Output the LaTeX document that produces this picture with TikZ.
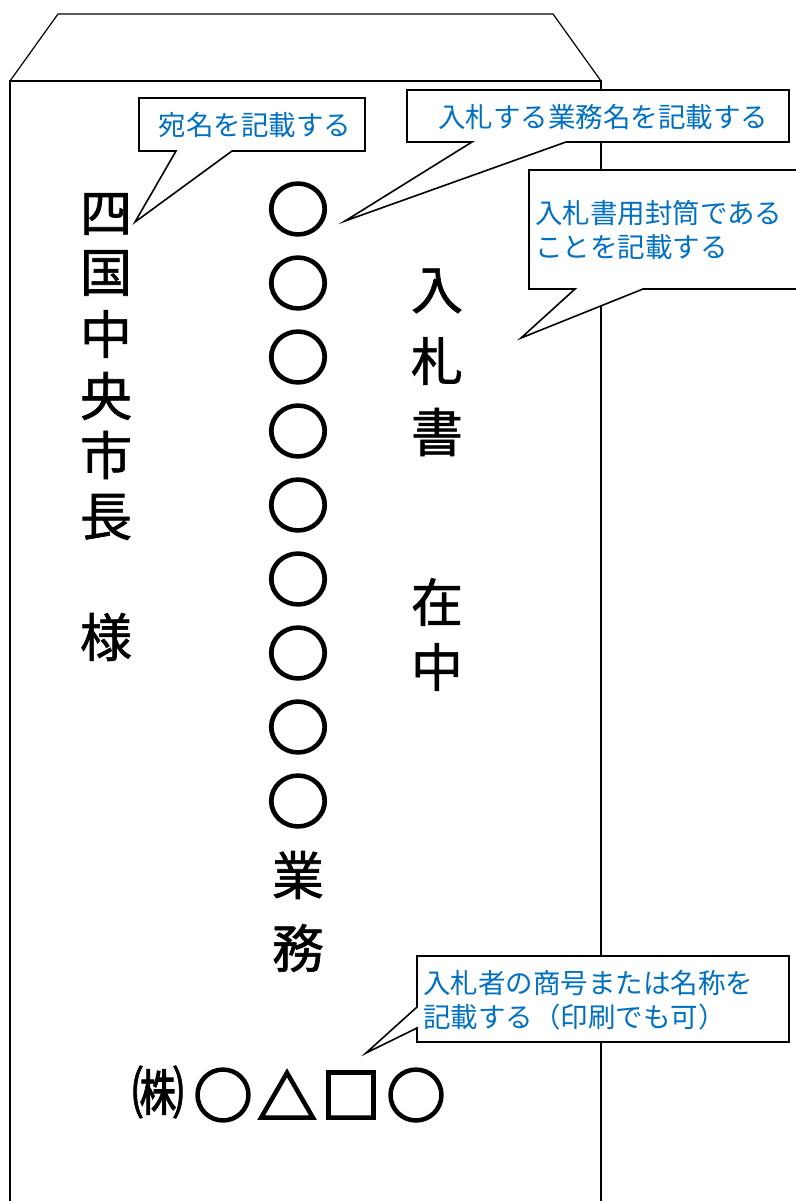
\documentclass[tikz,border=0pt]{standalone}
\usepackage{fontspec}
\setmainfont{Noto Sans CJK JP}
\newfontfamily\kanjifont[FakeBold=1.2]{Noto Sans CJK JP}
\newfontfamily\ringfont[FakeBold=4]{Noto Sans CJK JP}
\definecolor{noteblue}{RGB}{0,112,192}

\def \bigsize {52}
\def \ringsize {59}
\def \notesize {27.5}
\def \rowsep {74}
\tikzstyle{glyph}=[font=\kanjifont\fontsize{\bigsize}{\bigsize}\selectfont, inner sep=0pt]
\tikzstyle{ring}=[font=\ringfont\fontsize{\ringsize}{\ringsize}\selectfont, inner sep=0pt]
\tikzstyle{note}=[font=\fontsize{\notesize}{34}\selectfont, text=noteblue, inner sep=0pt, align=left]
\tikzstyle{balloon}=[draw, fill=white, line width=1.6pt, line join=miter]
\tikzstyle{outline}=[line width=1.2pt]

\begin{document}
\begin{tikzpicture}[x=1pt, y=-1pt]

\useasboundingbox (0,0) rectangle (795,1201);

% envelope
\draw[outline] (10,1201) -- (10,81) -- (601,81) -- (601,1201);
\draw[outline] (10,81) -- (58,14) -- (553,14) -- (601,81);

% address
\foreach \c/\y [count=\i] in {四/214, 国/273, 中/334, 央/396, 市/455, 長/517, 様/637}
    \node[glyph] (addr\i) at (106, \y) {\c};

% business name
\foreach \i in {1, ..., 9}
    \node[ring, xscale=1.05] (name\i) at (298, {209 + (\i - 1) * \rowsep}) {○};
\node[glyph] (gyo) at (298, 875) {業};
\node[glyph] (mu) at (298, 948) {務};

% title
\foreach \c/\y [count=\i] in {入/291, 札/361, 書/432, 在/602, 中/667}
    \node[glyph] (title\i) at (437, \y) {\c};

% bidder
\node[glyph, font=\kanjifont\fontsize{58}{58}\selectfont, xscale=0.9] (firm0) at (158, 1092) {㈱};
\foreach \c/\x [count=\i] in {○/223, △/287, □/351, ○/416}
    \node[ring] (firm\i) at (\x, 1095) {\c};

% callouts
\coordinate (tipA) at (135, 222);
\coordinate (tipB) at (345, 221);
\coordinate (tipC) at (521, 338);
\coordinate (tipD) at (366, 1053);

\draw[balloon] (139,98) -- (365,98) -- (365,151) -- (232,151) -- (tipA) -- (176,151) -- (139,151) -- cycle;
\draw[balloon] (407,90) -- (789,90) -- (789,142) -- (566,142) -- (tipB) -- (472,142) -- (407,142) -- cycle;
\draw[balloon] (529,170) -- (805,170) -- (805,289) -- (643,289) -- (tipC) -- (575,289) -- (529,289) -- cycle;
\draw[balloon] (417,956) -- (789,956) -- (789,1042) -- (417,1042) -- (417,1028) -- (tipD) -- (417,1007) -- cycle;

\node[note] (noteA) at (255, 125) {宛名を記載する};
\node[note] (noteB) at (603, 117) {入札する業務名を記載する};
\node[note, anchor=west] (noteC) at (535, 230) {入札書用封筒である\\ことを記載する};
\node[note, anchor=west] (noteD) at (423, 1000) {入札者の商号または名称を\\記載する（印刷でも可）};

\end{tikzpicture}
\end{document}
